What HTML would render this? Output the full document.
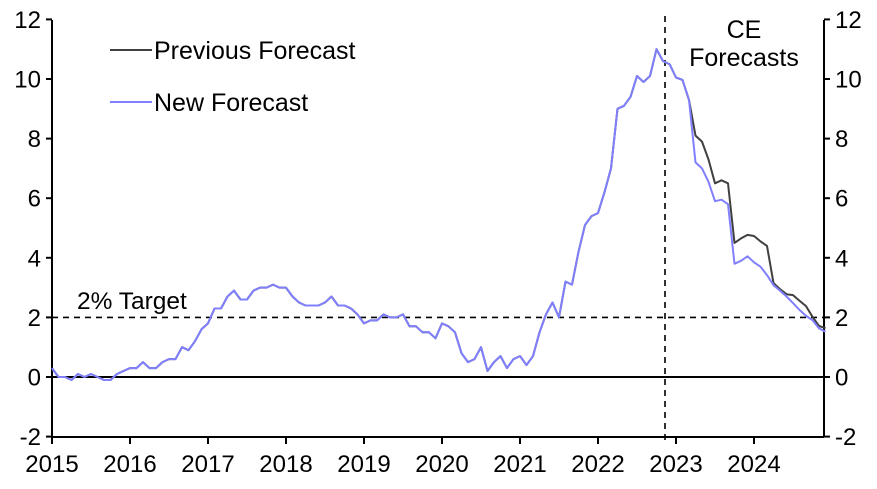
<!DOCTYPE html>
<html><head><meta charset="utf-8"><style>
html,body{margin:0;padding:0;background:#fff;}
svg{display:block;font-family:"Liberation Sans",Arial,sans-serif;}
</style></head><body>
<svg id="s" width="877" height="489" viewBox="0 0 877 489">
<g stroke="#000" stroke-width="2" fill="none">
<line x1="52" y1="20" x2="52" y2="437"/>
<line x1="824" y1="20" x2="824" y2="437"/>
<line x1="52" y1="437" x2="824" y2="437"/>
<line x1="52" y1="377" x2="824" y2="377"/>
</g>
<g stroke="#000" stroke-width="1.6" stroke-dasharray="6,5" fill="none">
<line x1="52" y1="317.4" x2="824" y2="317.4"/>
<line x1="665" y1="16" x2="665" y2="444"/>
</g>
<g id="ticks" stroke="#000" stroke-width="2"></g>
<g id="labels" font-size="24" fill="#000"></g>
<text x="77" y="309" font-size="24.5">2% Target</text>
<text x="744" y="38" font-size="25" text-anchor="middle">CE</text>
<text x="744" y="66" font-size="25" text-anchor="middle">Forecasts</text>
<line x1="110" y1="50" x2="152" y2="50" stroke="#404040" stroke-width="2"/>
<text x="154" y="59" font-size="25">Previous Forecast</text>
<line x1="110" y1="102" x2="152" y2="102" stroke="#8080ff" stroke-width="2"/>
<text x="154" y="111" font-size="25">New Forecast</text>
<polyline id="prev" fill="none" stroke="#404040" stroke-width="2" stroke-linejoin="round"/>
<polyline id="newf" fill="none" stroke="#8080ff" stroke-width="2" stroke-linejoin="round"/>
</svg>
<script>
var NS="http://www.w3.org/2000/svg";
function Y(v){return 377-v*29.8;}
function X(m){return 52+m*6.5;}
var t=document.getElementById("ticks"),L=document.getElementById("labels");
function el(p,n,a,txt){var e=document.createElementNS(NS,n);for(var k in a)e.setAttribute(k,a[k]);if(txt!==undefined)e.textContent=txt;p.appendChild(e);}
for(var v=-2;v<=12;v+=2){var y=Y(v);
el(t,"line",{x1:46,y1:y,x2:52,y2:y});el(t,"line",{x1:824,y1:y,x2:830,y2:y});
el(L,"text",{x:41,y:y+8.5,"text-anchor":"end"},String(v));
el(L,"text",{x:835,y:y+8.5},String(v));}
for(var yr=0;yr<10;yr++){var x=52+yr*78;el(t,"line",{x1:x,y1:437,x2:x,y2:444});
el(L,"text",{x:x,y:472,"text-anchor":"middle"},String(2015+yr));}
var hist=[0.3,0.0,0.0,-0.1,0.1,0.0,0.1,0.0,-0.1,-0.1,0.1,0.2,
0.3,0.3,0.5,0.3,0.3,0.5,0.6,0.6,1.0,0.9,1.2,1.6,
1.8,2.3,2.3,2.7,2.9,2.6,2.6,2.9,3.0,3.0,3.1,3.0,
3.0,2.7,2.5,2.4,2.4,2.4,2.5,2.7,2.4,2.4,2.3,2.1,
1.8,1.9,1.9,2.1,2.0,2.0,2.1,1.7,1.7,1.5,1.5,1.3,
1.8,1.7,1.5,0.8,0.5,0.6,1.0,0.2,0.5,0.7,0.3,0.6,
0.7,0.4,0.7,1.5,2.1,2.5,2.0,3.2,3.1,4.2,5.1,5.4,
5.5,6.2,7.0,9.0,9.1,9.4,10.1,9.9,10.1,11.0,10.6,10.5,
10.05,9.97,9.3];
var nw=[7.2,7.0,6.55,5.9,5.95,5.8,3.8,3.9,4.05,3.85,3.7,3.42,3.08,2.9,2.7,2.48,2.25,2.05,1.91,1.63,1.52];
var pv=[8.1,7.9,7.3,6.5,6.6,6.5,4.5,4.65,4.77,4.73,4.55,4.4,3.15,2.95,2.78,2.75,2.56,2.38,2.02,1.71,1.64];
function pts(a){return a.map(function(v,i){return X(i).toFixed(1)+","+Y(v).toFixed(1);}).join(" ");}
document.getElementById("prev").setAttribute("points",pts(hist.concat(pv)));
document.getElementById("newf").setAttribute("points",pts(hist.concat(nw)));
</script>
</body></html>
